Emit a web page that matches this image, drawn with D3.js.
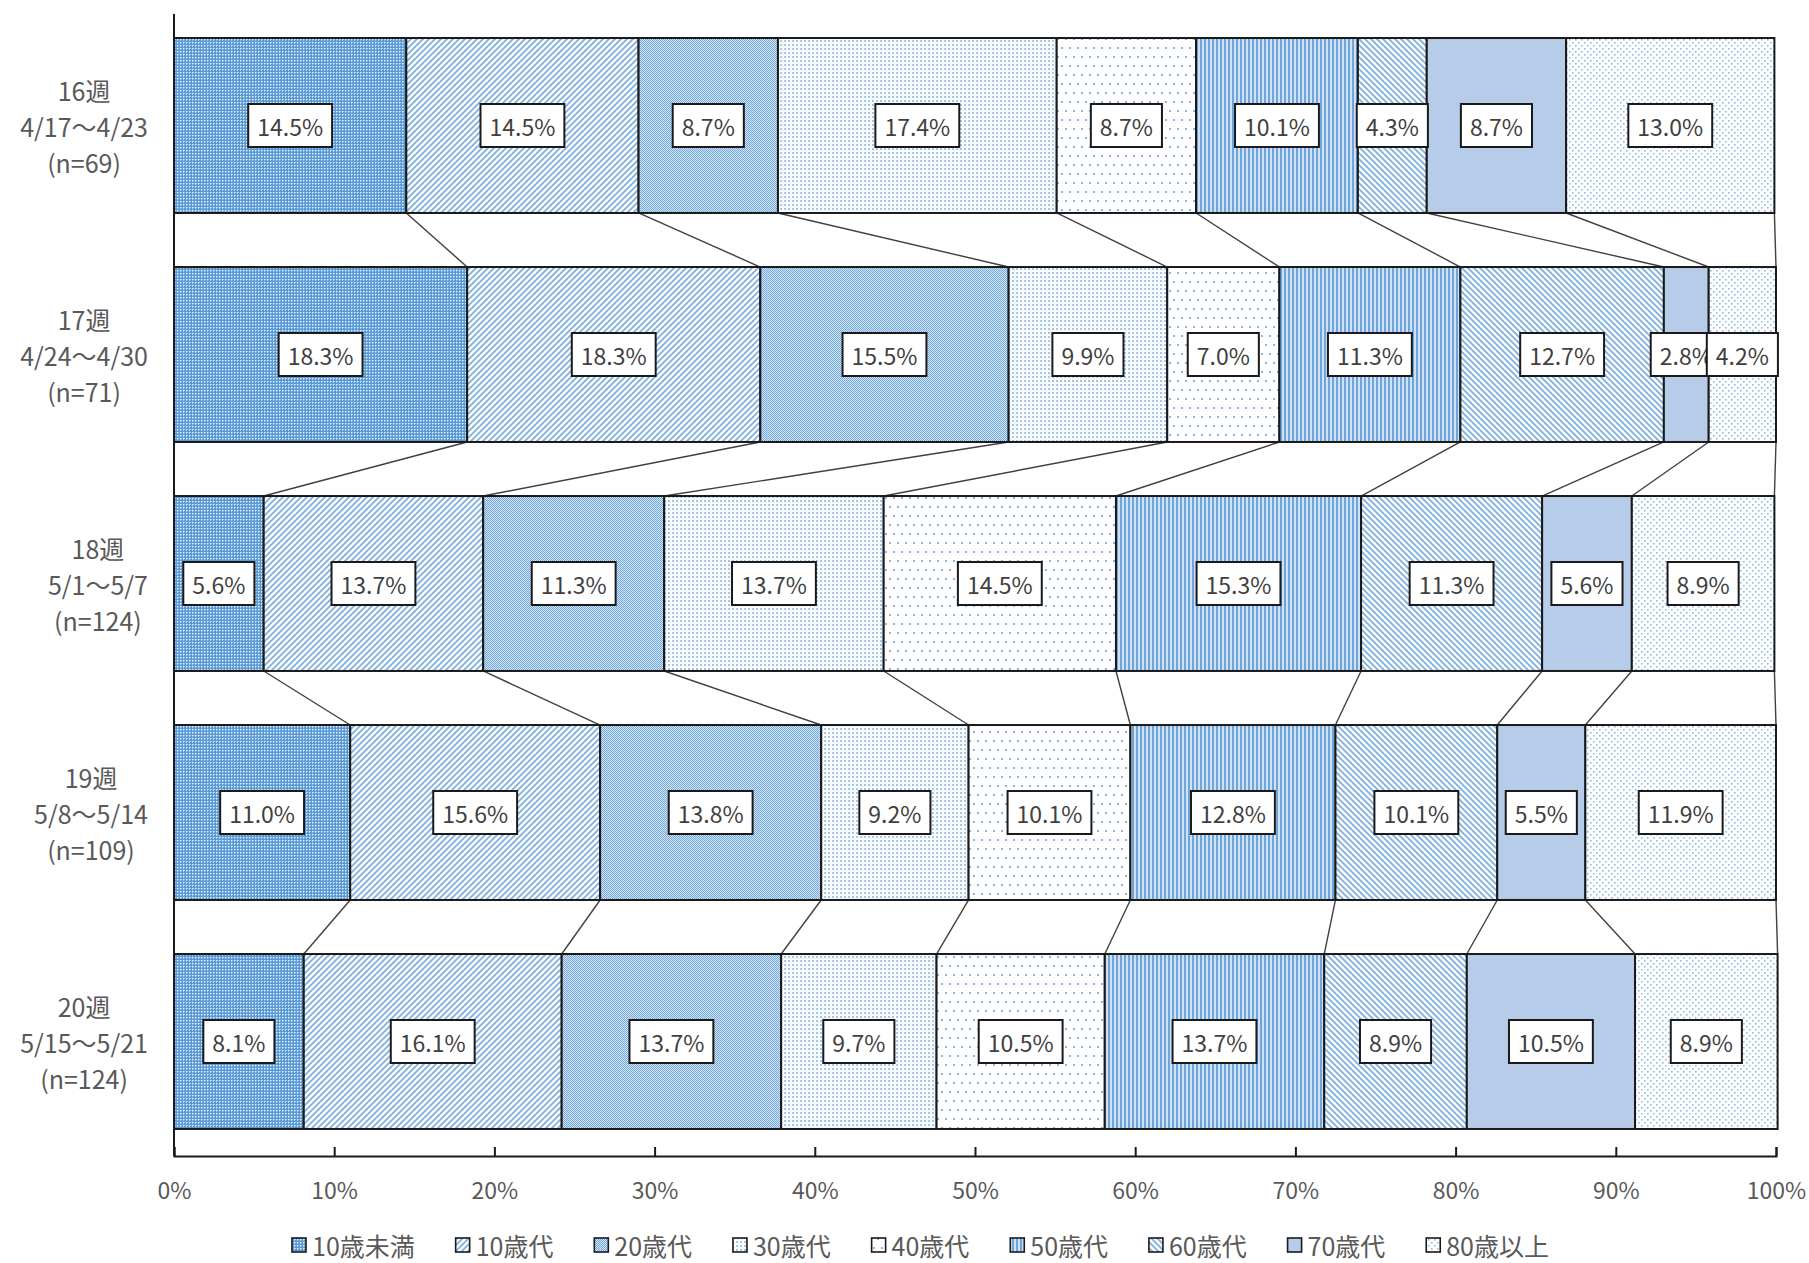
<!DOCTYPE html>
<html lang="ja">
<head>
<meta charset="utf-8">
<script src="https://cdn.jsdelivr.net/npm/d3@7"></script>
<style>
  html, body { margin: 0; padding: 0; background: #fff; }
  svg text { font-family: "Noto Sans CJK JP", "Noto Sans", sans-serif; }
</style>
</head>
<body>
<svg id="chart" width="1809" height="1263"></svg>
<script>
// Weekly cases by age group (share of each week's total, %)
const weekTitles = ["16週", "17週", "18週", "19週", "20週"];
const weekRanges = ["4/17～4/23", "4/24～4/30", "5/1～5/7", "5/8～5/14", "5/15～5/21"];
const weekCounts = ["(n=69)", "(n=71)", "(n=124)", "(n=109)", "(n=124)"];
const ageGroups = ["10歳未満", "10歳代", "20歳代", "30歳代", "40歳代", "50歳代", "60歳代", "70歳代", "80歳以上"];

const week16 = [14.5, 14.5, 8.7, 17.4, 8.7, 10.1, 4.3, 8.7, 13.0];
const week17 = [18.3, 18.3, 15.5, 9.9, 7.0, 11.3, 12.7, 2.8, 4.2];
const week18 = [5.6, 13.7, 11.3, 13.7, 14.5, 15.3, 11.3, 5.6, 8.9];
const week19 = [11.0, 15.6, 13.8, 9.2, 10.1, 12.8, 10.1, 5.5, 11.9];
const week20 = [8.1, 16.1, 13.7, 9.7, 10.5, 13.7, 8.9, 10.5, 8.9];
const weekShares = [week16, week17, week18, week19, week20];

const xTicks = [0, 10, 20, 30, 40, 50, 60, 70, 80, 90, 100];

const svg = d3.select("#chart");
const plot = { left: 174, right: 1776, top: 11, bottom: 1156 };

const x = d3.scaleLinear().domain([0, 100]).range([plot.left, plot.right]);
const y = d3.scaleBand().domain(weekTitles).range([plot.top, plot.bottom])
  .paddingInner(0.236).paddingOuter(0.118);

// ---- fill patterns, one per age group ----
const defs = svg.append("defs");
function pattern(id, w, h, draw) {
  const p = defs.append("pattern").attr("id", id)
    .attr("patternUnits", "userSpaceOnUse").attr("width", w).attr("height", h);
  draw(p);
}
pattern("p0", 3, 3, p => {
  p.append("rect").attr("width", 3).attr("height", 3).attr("fill", "#5b9bd5");
  p.append("rect").attr("width", 1).attr("height", 1).attr("fill", "#e4eef9");
  p.append("rect").attr("x", 1).attr("width", 1).attr("height", 1).attr("fill", "#a9c9ea");
  p.append("rect").attr("y", 1).attr("width", 1).attr("height", 1).attr("fill", "#a9c9ea");
});
pattern("p1", 6, 6, p => {
  p.append("rect").attr("width", 6).attr("height", 6).attr("fill", "#fff");
  p.append("path").attr("d", "M-1,7 L7,-1 M-4,4 L4,-4 M2,10 L10,2")
    .attr("stroke", "#7fb0e0").attr("stroke-width", 1.8);
});
pattern("p2", 2, 2, p => {
  p.append("rect").attr("width", 2).attr("height", 2).attr("fill", "#d6e6f6");
  p.append("rect").attr("width", 1).attr("height", 1).attr("fill", "#70a8dd");
  p.append("rect").attr("x", 1).attr("y", 1).attr("width", 1).attr("height", 1).attr("fill", "#70a8dd");
});
pattern("p3", 4, 4, p => {
  p.append("rect").attr("width", 4).attr("height", 4).attr("fill", "#fff");
  p.append("rect").attr("width", 2).attr("height", 2).attr("fill", "#a3c7ea");
  p.append("rect").attr("x", 2).attr("y", 2).attr("width", 1).attr("height", 1).attr("fill", "#d0e2f4");
});
pattern("p4", 8, 18, p => {
  p.append("rect").attr("width", 8).attr("height", 18).attr("fill", "#fff");
  p.append("rect").attr("x", 1).attr("y", 2).attr("width", 2).attr("height", 2).attr("fill", "#86b5e3");
  p.append("rect").attr("x", 5).attr("y", 11).attr("width", 2).attr("height", 2).attr("fill", "#86b5e3");
});
pattern("p5", 4, 4, p => {
  p.append("rect").attr("width", 4).attr("height", 4).attr("fill", "#cfe1f3");
  p.append("rect").attr("width", 2).attr("height", 4).attr("fill", "#6ea6dc");
});
pattern("p6", 6, 6, p => {
  p.append("rect").attr("width", 6).attr("height", 6).attr("fill", "#fff");
  p.append("path").attr("d", "M-1,-1 L7,7 M-4,2 L4,10 M2,-4 L10,4")
    .attr("stroke", "#7fb0e0").attr("stroke-width", 1.8);
});
pattern("p7", 4, 4, p => {
  p.append("rect").attr("width", 4).attr("height", 4).attr("fill", "#B7CCE8");
});
pattern("p8", 6, 6, p => {
  p.append("rect").attr("width", 6).attr("height", 6).attr("fill", "#fff");
  p.append("rect").attr("x", 0).attr("y", 0).attr("width", 1.6).attr("height", 1.6).attr("fill", "#8dbbe7");
  p.append("rect").attr("x", 3).attr("y", 3).attr("width", 1.6).attr("height", 1.6).attr("fill", "#8dbbe7");
});
const fillOf = i => `url(#p${i})`;

// ---- stacked segments ----
const rows = weekTitles.map((w, r) => {
  let acc = 0;
  return weekShares[r].map((v, i) => {
    const seg = { week: w, group: i, value: v, x0: acc, x1: acc + v };
    acc += v;
    return seg;
  });
});

// series lines between consecutive weeks
const connectors = [];
for (let r = 0; r < rows.length - 1; r++) {
  rows[r].forEach((seg, i) => {
    connectors.push({ a: seg.x1, b: rows[r + 1][i].x1, y0: y(weekTitles[r]) + y.bandwidth(), y1: y(weekTitles[r + 1]) });
  });
}
svg.append("g").selectAll("line").data(connectors).join("line")
  .attr("x1", d => x(d.a)).attr("x2", d => x(d.b))
  .attr("y1", d => d.y0).attr("y2", d => d.y1)
  .attr("stroke", "#404040").attr("stroke-width", 1.4);

const rowG = svg.append("g").selectAll("g").data(rows).join("g");
rowG.selectAll("rect").data(d => d).join("rect")
  .attr("x", d => x(d.x0)).attr("width", d => x(d.x1) - x(d.x0))
  .attr("y", d => y(d.week)).attr("height", y.bandwidth())
  .attr("fill", d => fillOf(d.group))
  .attr("stroke", "#1a1a1a").attr("stroke-width", 2);

// ---- axes ----
const xAxis = d3.axisBottom(x).tickValues(xTicks).tickSize(-9).tickPadding(27)
  .tickFormat(d => d + "%");
const gx = svg.append("g").attr("transform", `translate(0,${plot.bottom})`).call(xAxis);
gx.select(".domain").attr("stroke", "#1a1a1a").attr("stroke-width", 2);
gx.selectAll(".tick line").attr("stroke", "#1a1a1a").attr("stroke-width", 2);
gx.selectAll(".tick text").attr("font-size", 23).attr("fill", "#595959")
  .attr("font-family", "'Noto Sans CJK JP', sans-serif");

svg.append("line").attr("x1", plot.left).attr("x2", plot.left)
  .attr("y1", plot.top + 3).attr("y2", plot.bottom)
  .attr("stroke", "#1a1a1a").attr("stroke-width", 2);

// ---- category labels (three lines, block right-aligned to the axis gutter) ----
const catG = svg.append("g");
weekTitles.forEach((w, r) => {
  const lines = [weekTitles[r], weekRanges[r], weekCounts[r]];
  const cy = y(w) + y.bandwidth() / 2;
  const texts = lines.map((t, k) => catG.append("text")
    .attr("y", cy + (k - 1) * 36).attr("dominant-baseline", "central")
    .attr("text-anchor", "middle").attr("font-size", 25).attr("fill", "#595959").text(t));
  const maxW = d3.max(texts, t => t.node().getComputedTextLength());
  texts.forEach(t => t.attr("x", 148 - maxW / 2));
});

// ---- data labels ----
const lblG = svg.append("g");
rows.forEach(row => row.forEach(seg => {
  const cx = (x(seg.x0) + x(seg.x1)) / 2;
  const cy = y(seg.week) + y.bandwidth() / 2;
  const g = lblG.append("g");
  const box = g.append("rect");
  const t = g.append("text").attr("x", cx).attr("y", cy)
    .attr("text-anchor", "middle").attr("dominant-baseline", "central")
    .attr("font-size", 23).attr("fill", "#404040").text(seg.value.toFixed(1) + "%");
  const w = t.node().getComputedTextLength() + 18;
  box.attr("x", cx - w / 2).attr("y", cy - 21.5).attr("width", w).attr("height", 43)
    .attr("fill", "#fff").attr("stroke", "#1a1a1a").attr("stroke-width", 2);
}));

// ---- legend, spread between fixed ends ----
const legG = svg.append("g").attr("transform", "translate(0,1245)");
const legStart = 292, legEnd = 1549;
const legTexts = ageGroups.map((name, i) => {
  const g = legG.append("g");
  g.append("rect").attr("y", -7).attr("width", 14).attr("height", 14)
    .attr("fill", fillOf(i)).attr("stroke", "#1a1a1a").attr("stroke-width", 1.6);
  const t = g.append("text").attr("y", 0).attr("dominant-baseline", "central")
    .attr("font-size", 25).attr("fill", "#595959").text(name);
  return { g, w: t.node().getComputedTextLength() };
});
const used = d3.sum(legTexts, d => 20 + d.w);
const gap = (legEnd - legStart - used) / (ageGroups.length - 1);
let lx = legStart;
legTexts.forEach(d => {
  d.g.select("rect").attr("x", lx);
  d.g.select("text").attr("x", lx + 20);
  lx += 20 + d.w + gap;
});
</script>
</body>
</html>
